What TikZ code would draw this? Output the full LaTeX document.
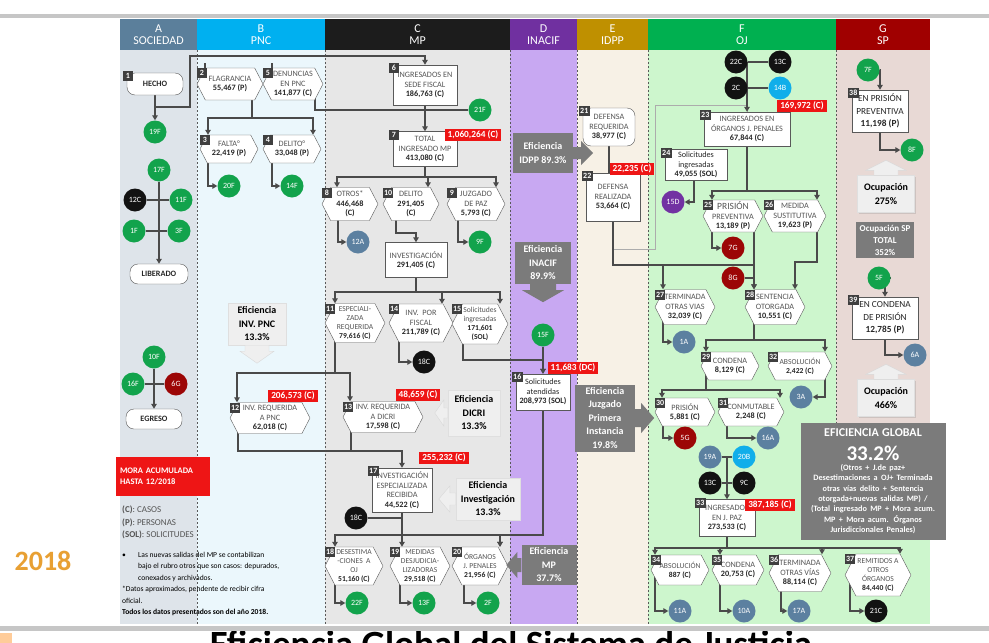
\documentclass[tikz,border=0pt]{standalone}
\usepackage{fontspec}
\setmainfont{Carlito}
\usetikzlibrary{positioning,shapes.symbols,arrows.meta,shadows}

\definecolor{bgA}{HTML}{DEE4EA}
\definecolor{bgB}{HTML}{EBF7FC}
\definecolor{bgC}{HTML}{E7E7E7}
\definecolor{bgD}{HTML}{C8A8F2}
\definecolor{bgE}{HTML}{F7F1E6}
\definecolor{bgF}{HTML}{CDF6CD}
\definecolor{bgG}{HTML}{E8D9D5}
\definecolor{hA}{HTML}{5B7F9B}
\definecolor{hB}{HTML}{00B0F0}
\definecolor{hC}{HTML}{1C1C1C}
\definecolor{hD}{HTML}{7030A0}
\definecolor{hE}{HTML}{BF9000}
\definecolor{hF}{HTML}{00B050}
\definecolor{hG}{HTML}{A00000}
\definecolor{linegray}{HTML}{595959}
\definecolor{wire}{HTML}{4A4A4A}
\definecolor{txtgray}{HTML}{555555}
\definecolor{numtxt}{HTML}{262626}
\definecolor{tagdark}{HTML}{3F3F3F}
\definecolor{tagred}{HTML}{EE1515}
\definecolor{cgreen}{HTML}{12A34C}
\definecolor{cblack}{HTML}{121212}
\definecolor{csteel}{HTML}{5C80A0}
\definecolor{ccyan}{HTML}{10AEEA}
\definecolor{cdred}{HTML}{9C0606}
\definecolor{cpurple}{HTML}{7232A2}
\definecolor{effdark}{HTML}{7B7B7B}
\definecolor{efflight}{HTML}{EFEFEF}
\definecolor{yearcol}{HTML}{E8A033}

\newcommand{\boxfont}{\fontsize{8.2}{9.6}\selectfont}
\newcommand{\tightfont}{\fontsize{7.6}{8.9}\selectfont}
\newcommand{\dotfont}{\fontsize{8}{9}\selectfont}
\newcommand{\tagfont}{\fontsize{8}{9}\selectfont\bfseries}
\newcommand{\redfont}{\fontsize{9.3}{10}\selectfont\bfseries}
\newcommand{\efffont}{\fontsize{10}{13.5}\selectfont\bfseries}
\newcommand{\colfont}{\fontsize{12}{12.5}\selectfont}
\newcommand{\spfont}{\fontsize{9.3}{12.5}\selectfont}
\newcommand{\nval}[1]{{\bfseries\color{numtxt}#1}}
\newcommand{\htag}[2]{\node[numtag] at (#1.north -| #1.west) {#2};}
\newcommand{\btag}[2]{\node[numtag] at ([shift={(-4pt,2pt)}]#1.north west) {#2};}

\pgfdeclarelayer{back}
\pgfdeclarelayer{wires}
\pgfsetlayers{back,wires,main}

\tikzset{
  hexa/.style={shape=signal, signal to=east and west, signal pointer angle=125, draw=linegray, fill=white, align=center, inner sep=0pt, text=txtgray, font=\boxfont},
  boxn/.style={rectangle, draw=linegray, fill=white, align=center, inner sep=0pt, text=txtgray, font=\boxfont},
  roundn/.style={boxn, rounded corners=8pt},
  tight/.style={font=\tightfont},
  dot/.style={circle, minimum size=23pt, inner sep=0pt, text=white, font=\dotfont},
  numtag/.style={fill=tagdark, text=white, font=\tagfont, inner xsep=1.2pt, inner ysep=0pt, minimum height=10pt, minimum width=10pt, anchor=north west},
  redtag/.style={fill=tagred, text=white, font=\redfont, inner xsep=3pt, inner ysep=2pt},
  conn/.style={draw=wire, line width=1.4pt},
  arr/.style={conn, -{Triangle[length=5pt,width=5.5pt]}},
  thinline/.style={draw=gray!65, line width=0.6pt},
  effd/.style={fill=effdark, text=white, align=center, font=\efffont, inner sep=1pt},
  effl/.style={fill=efflight, draw=gray!25, text=black, align=center, font=\efffont, inner sep=1pt, drop shadow={shadow xshift=1pt, shadow yshift=-1pt, opacity=0.25}},
  colhead/.style={text=white, align=center, font=\colfont, inner sep=0pt, minimum height=31pt},
  sepline/.style={draw=gray!70!black, line width=0.6pt, dash pattern=on 2pt off 2pt},
}

\begin{document}
\begin{tikzpicture}[x=1pt,y=-1pt]
\useasboundingbox (0,0) rectangle (989,643);

% columns
\begin{pgfonlayer}{back}
\fill[white] (0,0) rectangle (989,643);
\fill[gray!45] (0,14) rectangle (989,18);
\fill[bgA] (120,50) rectangle (197,624);
\fill[bgB] (197,50) rectangle (325,624);
\fill[bgC] (325,50) rectangle (510,624);
\fill[bgD] (510,50) rectangle (577,624);
\fill[bgE] (577,50) rectangle (648,624);
\fill[bgF] (648,50) rectangle (836,624);
\fill[bgG] (836,50) rectangle (930,443);
\fill[bgF] (836,443) rectangle (930,624);
\draw[sepline] (197,50) -- (197,624);
\draw[sepline] (325,50) -- (325,624);
\draw[sepline] (510,50) -- (510,624);
\draw[sepline] (577,50) -- (577,624);
\draw[sepline] (648,50) -- (648,624);
\draw[sepline] (836,50) -- (836,443);
\fill[gray!45] (0,626) rectangle (989,631);
\fill[orange!40] (0,633) rectangle (12,643);
\end{pgfonlayer}

\node[colhead, fill=hA, minimum width=77] (hdA) at (158.5,34.5) {A\\SOCIEDAD};
\node[colhead, fill=hB, minimum width=128] (hdB) at (261,34.5) {B\\PNC};
\node[colhead, fill=hC, minimum width=185] (hdC) at (417.5,34.5) {C\\MP};
\node[colhead, fill=hD, minimum width=67] (hdD) at (543.5,34.5) {D\\INACIF};
\node[colhead, fill=hE, minimum width=71] (hdE) at (612.5,34.5) {E\\IDPP};
\node[colhead, fill=hF, minimum width=188] (hdF) at (742,34.5) {F\\OJ};
\node[colhead, fill=hG, minimum width=94] (hdG) at (883,34.5) {G\\SP};

% A SOCIEDAD
\node[roundn, font=\boxfont\bfseries, text=numtxt, minimum width=56, minimum height=22] (n1) at (155,84) {HECHO};
\node[dot, fill=cgreen] (c19F) at (155,132) {19F};
\node[dot, fill=cgreen] (c17F) at (159,170) {17F};
\node[dot, fill=cblack] (c12C) at (135,200) {12C};
\node[dot, fill=cgreen] (c11F) at (181,200) {11F};
\node[dot, fill=cgreen] (c1F) at (134,231) {1F};
\node[dot, fill=cgreen] (c3F) at (179,231) {3F};
\node[roundn, font=\boxfont\bfseries, text=numtxt, minimum width=58, minimum height=20] (liberado) at (159,274) {LIBERADO};
\node[dot, fill=cgreen] (c10F) at (154,357) {10F};
\node[dot, fill=cgreen] (c16F) at (133,384) {16F};
\node[dot, fill=cdred] (c6G) at (176,384) {6G};
\node[roundn, font=\boxfont\bfseries, text=numtxt, minimum width=56, minimum height=20] (egreso) at (154,419) {EGRESO};
\node[fill=tagred, text=white, font=\fontsize{8.5}{11}\selectfont\bfseries, align=left, text width=86, inner xsep=4pt, minimum height=39] (mora) at (163,476) {MORA ACUMULADA\\HASTA 12/2018};
\node[anchor=north west, align=left, font=\fontsize{9}{12.3}\selectfont, text=txtgray, inner sep=0pt] (legend) at (122,506) {\textbf{(C)}: CASOS\\\textbf{(P)}: PERSONAS\\\textbf{(SOL)}: SOLICITUDES};
\node[anchor=north west, align=left, font=\fontsize{7.6}{11.4}\selectfont, text=black, inner sep=0pt] (notes) at (122,552) {\makebox[16pt][l]{•}Las nuevas salidas del MP se contabilizan\\\hspace*{16pt}bajo el rubro otros que son casos: depurados,\\\hspace*{16pt}conexados y archivados.\\*Datos aproximados, pendente de recibir cifra\\oficial.\\\textbf{Todos los datos presentados son del año 2018.}};
\node[font=\fontsize{28}{30}\selectfont\bfseries, text=yearcol] (year) at (43,561) {2018};

% B PNC
\node[hexa, minimum width=66, minimum height=32] (n2) at (230,84) {FLAGRANCIA\\\nval{55,467 (P)}};
\node[hexa, minimum width=60, minimum height=32] (n5) at (293,84) {DENUNCIAS\\EN PNC\\\nval{141,877 (C)}};
\node[hexa, minimum width=58, minimum height=28] (n3) at (229,149) {FALTA°\\\nval{22,419 (P)}};
\node[hexa, minimum width=58, minimum height=28] (n4) at (292,149) {DELITO°\\\nval{33,048 (P)}};
\node[dot, fill=cgreen] (c20F) at (229,186) {20F};
\node[dot, fill=cgreen] (c14F) at (292,186) {14F};
\node[effl, minimum width=58, minimum height=42] (ePNC) at (257,324) {Eficiencia\\INV. PNC\\13.3\%};
\node[hexa, minimum width=80, minimum height=31] (n12) at (270,418) {INV. REQUERIDA\\A PNC\\\nval{62,018 (C)}};

% C MP
\node[boxn, minimum width=64, minimum height=40] (n6) at (425,85) {INGRESADOS EN\\SEDE FISCAL\\\nval{186,763 (C)}};
\node[boxn, minimum width=64, minimum height=35] (n7) at (425,149) {TOTAL\\INGRESADO MP\\\nval{413,080 (C)}};
\node[dot, fill=cgreen] (c21F) at (480,110) {21F};
\node[hexa, minimum width=56, minimum height=33] (n8) at (350,204) {OTROS*\\\nval{446,468}\\\nval{(C)}};
\node[hexa, minimum width=56, minimum height=33] (n10) at (411,204) {DELITO\\\nval{291,405}\\\nval{(C)}};
\node[hexa, minimum width=58, minimum height=33] (n9) at (476,204) {JUZGADO\\DE PAZ\\\nval{5,793 (C)}};
\node[dot, fill=csteel] (c12A) at (358,242) {12A};
\node[dot, fill=cgreen] (c9F) at (480,242) {9F};
\node[boxn, minimum width=62, minimum height=35] (ninv) at (416,260) {INVESTIGACIÓN\\\nval{291,405 (C)}};
\node[hexa, tight, minimum width=60, minimum height=39] (n11) at (355,323) {ESPECIALI-\\ZADA\\REQUERIDA\\\nval{79,616 (C)}};
\node[hexa, minimum width=64, minimum height=38] (n14) at (421,323) {INV.\ \ POR\\FISCAL\\\nval{211,789 (C)}};
\node[hexa, tight, minimum width=56, minimum height=40] (n15) at (480,324) {Solicitudes\\ingresadas\\\nval{171,601}\\\nval{(SOL)}};
\node[dot, fill=cblack] (c18Ca) at (424,362) {18C};
\node[hexa, minimum width=80, minimum height=31] (n13) at (383,417) {INV. REQUERIDA\\A DICRI\\\nval{17,598 (C)}};
\node[effl, minimum width=52, minimum height=46] (eDICRI) at (474,413) {Eficiencia\\DICRI\\13.3\%};
\node[boxn, minimum width=60, minimum height=44] (n17) at (402,490) {INVESTIGACIÓN\\ESPECIALIZADA\\RECIBIDA\\\nval{44,522 (C)}};
\node[dot, fill=cblack] (c18Cb) at (356,518) {18C};
\node[effl, minimum width=64, minimum height=42] (eInv) at (488,499) {Eficiencia\\Investigación\\13.3\%};
\node[hexa, tight, minimum width=58, minimum height=38] (n18) at (354,566) {DESESTIMA\\-CIONES\ \ A\\OJ\\\nval{51,160 (C)}};
\node[hexa, tight, minimum width=60, minimum height=38] (n19) at (420,566) {MEDIDAS\\DESJUDICIA-\\LIZADORAS\\\nval{29,518 (C)}};
\node[hexa, tight, minimum width=56, minimum height=38] (n20) at (480,566) {ÓRGANOS\\J. PENALES\\\nval{21,956 (C)}};
\node[dot, fill=cgreen] (c22F) at (357,603) {22F};
\node[dot, fill=cgreen] (c13F) at (424,603) {13F};
\node[dot, fill=cgreen] (c2F) at (488,603) {2F};

% D INACIF
\node[effd, minimum width=60, minimum height=40] (eIDPP) at (543,153) {Eficiencia\\IDPP 89.3\%};
\node[effd, minimum width=56, minimum height=42] (eINACIF) at (543,263) {Eficiencia\\INACIF\\89.9\%};
\node[dot, fill=cgreen] (c15F) at (543,335) {15F};
\node[boxn, minimum width=54, minimum height=36, text=numtxt] (n16) at (543,392) {Solicitudes\\atendidas\\\nval{208,973 (SOL)}};
\node[effd, minimum width=60, minimum height=67] (eJPI) at (605,418) {Eficiencia\\Juzgado\\Primera\\Instancia\\19.8\%};
\node[effd, minimum width=55, minimum height=40] (eMP) at (549,565) {Eficiencia\\MP\\37.7\%};

% E IDPP
\node[roundn, minimum width=52, minimum height=38] (n21) at (609,127) {DEFENSA\\REQUERIDA\\\nval{38,977 (C)}};
\node[boxn, minimum width=54, minimum height=48] (n22) at (613,197) {DEFENSA\\REALIZADA\\\nval{53,664 (C)}};

% F OJ
\node[dot, fill=cblack] (c22C) at (736,62) {22C};
\node[dot, fill=cblack] (c13Ca) at (780,62) {13C};
\node[dot, fill=cblack] (c2C) at (736,88) {2C};
\node[dot, fill=ccyan] (c14B) at (780,88) {14B};
\node[boxn, minimum width=86, minimum height=34] (n23) at (747,129) {INGRESADOS EN\\ÓRGANOS J. PENALES\\\nval{67,844 (C)}};
\node[boxn, minimum width=62, minimum height=31, text=numtxt] (n24) at (696,165) {Solicitudes\\ingresadas\\\nval{49,055 (SOL)}};
\node[dot, fill=cpurple] (c15D) at (673,202) {15D};
\node[hexa, minimum width=60, minimum height=32] (n25) at (733,216) {{\fontsize{9.5}{10}\selectfont PRISIÓN}\\PREVENTIVA\\\nval{13,189 (P)}};
\node[hexa, minimum width=62, minimum height=32] (n26) at (795,216) {MEDIDA\\SUSTITUTIVA\\\nval{19,623 (P)}};
\node[dot, fill=cdred] (c7G) at (733,248) {7G};
\node[dot, fill=cdred] (c8G) at (733,278) {8G};
\node[hexa, minimum width=60, minimum height=35] (n27) at (685,307) {TERMINADA\\OTRAS VIAS\\\nval{32,039 (C)}};
\node[hexa, minimum width=60, minimum height=35] (n28) at (775,307) {SENTENCIA\\OTORGADA\\\nval{10,551 (C)}};
\node[dot, fill=csteel] (c1A) at (684,342) {1A};
\node[hexa, minimum width=58, minimum height=28] (n29) at (730,366) {CONDENA\\\nval{8,129 (C)}};
\node[hexa, tight, minimum width=64, minimum height=28] (n32) at (800,366) {ABSOLUCIÓN\\\nval{2,422 (C)}};
\node[dot, fill=csteel] (c3A) at (801,397) {3A};
\node[hexa, minimum width=60, minimum height=28] (n30) at (685,412) {PRISIÓN\\\nval{5,881 (C)}};
\node[hexa, minimum width=66, minimum height=28] (n31) at (751,412) {CONMUTABLE\\\nval{2,248 (C)}};
\node[dot, fill=cdred] (c5G) at (685,438) {5G};
\node[dot, fill=csteel] (c16A) at (768,438) {16A};
\node[dot, fill=csteel] (c19A) at (710,457) {19A};
\node[dot, fill=ccyan] (c20B) at (744,457) {20B};
\node[dot, fill=cblack] (c13Cb) at (710,483) {13C};
\node[dot, fill=cblack] (c9C) at (744,483) {9C};
\node[boxn, minimum width=56, minimum height=37] (n33) at (727,518) {INGRESADOS\\EN J. PAZ\\\nval{273,533 (C)}};
\node[hexa, tight, minimum width=58, minimum height=30] (n34) at (680,570) {ABSOLUCIÓN\\\nval{887 (C)}};
\node[hexa, minimum width=52, minimum height=30] (n35) at (738,570) {CONDENA\\\nval{20,753 (C)}};
\node[hexa, minimum width=62, minimum height=37] (n36) at (800,573) {TERMINADA\\OTRAS VÍAS\\\nval{88,114 (C)}};
\node[hexa, tight, minimum width=66, minimum height=42] (n37) at (878,575) {REMITIDOS A\\OTROS\\ÓRGANOS\\\nval{84,440 (C)}};
\node[dot, fill=csteel] (c11A) at (680,611) {11A};
\node[dot, fill=csteel] (c10A) at (744,611) {10A};
\node[dot, fill=csteel] (c17A) at (799,611) {17A};
\node[dot, fill=cblack] (c21C) at (876,611) {21C};
\node[effd, text width=141, minimum height=117, inner sep=2pt] (eGlobal) at (873,481) {{\fontsize{12}{14}\selectfont EFICIENCIA GLOBAL\par}{\fontsize{21}{24}\selectfont 33.2\%\par}{\fontsize{8.2}{10.3}\selectfont (Otros + J.de paz+\\Desestimaciones a OJ+ Terminada\\otras vías delito + Sentencia\\otorgada+nuevas salidas MP) /\\(Total ingresado MP + Mora acum.\\MP + Mora acum. Órganos\\Jurisdiccionales Penales)\par}};

% G SP
\node[dot, fill=cgreen] (c7F) at (868,70) {7F};
\node[boxn, font=\spfont, text=numtxt, minimum width=56, minimum height=42] (n38) at (880,111) {EN PRISIÓN\\PREVENTIVA\\\nval{11,198 (P)}};
\node[dot, fill=cgreen] (c8F) at (912,150) {8F};
\node[effl, minimum width=57, minimum height=37] (occA) at (886,194) {Ocupación\\275\%};
\node[effd, font=\fontsize{9}{12}\selectfont\bfseries, minimum width=58, minimum height=36] (occSP) at (885,240) {Ocupación SP\\TOTAL\\352\%};
\node[dot, fill=cgreen] (c5F) at (879,278) {5F};
\node[boxn, font=\spfont, text=numtxt, minimum width=66, minimum height=42] (n39) at (885,318) {EN CONDENA\\DE PRISIÓN\\\nval{12,785 (P)}};
\node[dot, fill=csteel] (c6A) at (915,355) {6A};
\node[effl, minimum width=57, minimum height=37] (occB) at (886,398) {Ocupación\\466\%};

% number tags
\btag{n1}{1} \htag{n2}{2} \htag{n3}{3} \htag{n4}{4} \htag{n5}{5}
\btag{n6}{6} \btag{n7}{7} \htag{n8}{8} \htag{n9}{9} \htag{n10}{10}
\htag{n11}{11} \htag{n12}{12} \htag{n13}{13} \htag{n14}{14} \htag{n15}{15}
\btag{n16}{16} \btag{n17}{17} \htag{n18}{18} \htag{n19}{19} \htag{n20}{20}
\btag{n21}{21} \btag{n22}{22} \btag{n23}{23} \btag{n24}{24} \htag{n25}{25}
\htag{n26}{26} \htag{n27}{27} \htag{n28}{28} \htag{n29}{29} \htag{n30}{30}
\htag{n31}{31} \htag{n32}{32} \btag{n33}{33} \htag{n34}{34} \htag{n35}{35}
\htag{n36}{36} \htag{n37}{37} \btag{n38}{38} \btag{n39}{39}

% red totals
\node[redtag] (t7) at (473,135) {1,060,264 (C)};
\node[redtag] (t12) at (293,396) {206,573 (C)};
\node[redtag] (t13) at (418,395) {48,659 (C)};
\node[redtag] (t17) at (444,458) {255,232 (C)};
\node[redtag] (t16) at (573,368) {11,683 (DC)};
\node[redtag] (t22) at (632,169) {22,235 (C)};
\node[redtag] (t23) at (802,106) {169,972 (C)};
\node[redtag] (t33) at (770,505) {387,185 (C)};

% wide arrows of the efficiency boxes
\fill[efflight, draw=gray!30] (ePNC.south) ++(-12,0) -- ++(0,6) -- ++(-5,0) -- ++(17,12) -- ++(17,-12) -- ++(-5,0) -- ++(0,-6) -- cycle;
\fill[efflight, draw=gray!30] (eDICRI.west) ++(0,-5) -- ++(-4,0) -- ++(0,-8) -- ++(-9,13) -- ++(9,13) -- ++(0,-8) -- ++(4,0) -- cycle;
\fill[efflight, draw=gray!30] (eInv.west) ++(0,-6) -- ++(-6,0) -- ++(0,-7) -- ++(-11,13) -- ++(11,13) -- ++(0,-7) -- ++(6,0) -- cycle;
\fill[effdark] (eMP.west) ++(0,-7) -- ++(-4,0) -- ++(0,-6) -- ++(-11,13) -- ++(11,13) -- ++(0,-6) -- ++(4,0) -- cycle;
\fill[effdark] (eIDPP.east) ++(0,-6) -- ++(8,0) -- ++(0,-6) -- ++(12,12) -- ++(-12,12) -- ++(0,-6) -- ++(-8,0) -- cycle;
\fill[effdark] (eINACIF.south) ++(-13,0) -- ++(0,6) -- ++(-8,0) -- ++(21,12) -- ++(21,-12) -- ++(-8,0) -- ++(0,-6) -- cycle;
\fill[effdark] (eJPI.east) ++(0,-9) -- ++(6,0) -- ++(0,-6) -- ++(13,15) -- ++(-13,15) -- ++(0,-6) -- ++(-6,0) -- cycle;
\fill[efflight, draw=gray!30] (occA.north) ++(-12,0) -- ++(0,-5) -- ++(-8,0) -- ++(20,-10) -- ++(20,10) -- ++(-8,0) -- ++(0,5) -- cycle;
\fill[efflight, draw=gray!30] (occB.north) ++(-12,0) -- ++(0,-5) -- ++(-8,0) -- ++(20,-10) -- ++(20,10) -- ++(-8,0) -- ++(0,5) -- cycle;

% connectors
\begin{pgfonlayer}{wires}
\coordinate (j1) at (155,107);
\coordinate (j1b) at (190,56);
\coordinate (j2) at (252,118);
\coordinate (j7) at (425,177);
\coordinate (j10) at (416,233);
\coordinate (jinv) at (416,292);
\coordinate (j11) at (335,373);
\coordinate (j15) at (543,360);
\coordinate (j12) at (402,451);
\coordinate (j17) at (402,535);
\coordinate (j16) at (500,535);
\coordinate (j22) at (613,265);
\coordinate (j22t) at (613,249);
\coordinate (jd) at (655,105);
\coordinate (j23) at (747,191);
\coordinate (j26) at (795,262);
\coordinate (j28) at (754,340);
\coordinate (j29) at (706,390);
\coordinate (j33) at (727,548);
\draw[arr] (n1) -- (c19F.north);
\draw[arr] (n1) -- (j1) -| (j1b) -| (n6.north);
\draw[arr] (n2.north -| 205,56) -- (n2.north -| 205,0);
\draw[arr] (n5.north -| 272,56) -- (n5.north -| 272,0);
\draw[conn] (c12C) -- (c11F);
\draw[conn] (c1F) -- (c3F);
\draw[arr] (c17F) -- (liberado.north);
\draw[conn] (c16F) -- (c6G);
\draw[arr] (c10F) -- (egreso.north);
\draw[arr] (n2 -| j2) -- (j2) -| (n3.north -| 208,0);
\draw[arr] (j2) -| (n4.north -| 313,0);
\draw[arr] (n3 -| 208,0) |- (c20F.west);
\draw[arr] (n4 -| 272,0) |- (c14F.west);
\draw[conn] (n5 -| 315,0) |- (c21F);
\draw[arr] (n6) -- (n7.north);
\draw[arr] (n7) -- (j7) -| (n8.north -| 337,0);
\draw[arr] (j7) -| (n10.north -| 428,0);
\draw[arr] (j7) -| (n9.north -| 496,0);
\draw[arr] (n8 -| 338,0) |- (c12A.west);
\draw[arr] (n10 -| 396,0) |- (j10) -- (ninv.north);
\draw[arr] (n9 -| 458,0) |- (c9F.west);
\draw[arr] (ninv) -- (jinv) -| (n11.north -| 335,0);
\draw[arr] (jinv) -| (n14.north -| 442,0);
\draw[arr] (jinv) -| (n15.north -| 500,0);
\draw[arr] (n14 -| 399,0) |- (c18Ca.west);
\draw[arr] (n15 -| 463,0) |- (j15) -- (n16.north);
\draw[arr] (c15F) -- (n16.north);
\draw[arr] (n11 -| j11) -- (j11) -| (n12.north -| 237,0);
\draw[arr] (j11) -| (n13.north -| 350,0);
\draw[arr] (n12 -| 238,0) |- (j12) -- (n17.north);
\draw[conn] (n13 -| 351,0) |- (j12);
\draw[conn] (c18Cb) -- (c18Cb -| n17);
\draw[arr] (n17) -- (j17) -| (n18.north -| 335,0);
\draw[arr] (j17) -- (n19.north -| j17);
\draw[arr] (j17) -| (n20.north -| j16);
\draw[arr] (n16) |- (j16) -- (n20.north -| j16);
\draw[arr] (n18 -| 335,0) |- (c22F.west);
\draw[arr] (n19 -| 400,0) |- (c13F.west);
\draw[arr] (n20 -| 464,0) |- (c2F.west);
\draw[conn] (n21) -- (n21 |- n22.north);
\draw[thinline] (j22t) -| (jd) -| (n23.north);
\draw[arr] (n22) -- (j22) -| (n27.north -| 663,0);
\draw[arr] (j22) -| (n28.north -| 754,0);
\draw[conn] (c22C) -- (c13Ca);
\draw[conn] (c2C) -- (c14B);
\draw[arr] (c22C -| n23) -- (n23.north);
\draw[arr] (n24 -| 694,0) |- (c15D.east);
\draw[arr] (n23) -- (j23) -| (n25.north -| 712,0);
\draw[arr] (j23) -| (n26.north -| 817,0);
\draw[arr] (n25 -| 712,0) |- (c7G.west);
\draw[arr] (n25 -| 754,0) -- (n28.north -| 754,0);
\draw[conn] (c8G) -- (c8G -| 754,0);
\draw[arr] (n26 -| 817,0) |- (j26) -- (n28.north -| j26);
\draw[arr] (n27 -| 663,0) |- (c1A.west);
\draw[arr] (n28 -| j28) -- (j28) -| (n29.north -| 706,0);
\draw[arr] (j28) -| (n32.north -| 825,0);
\draw[arr] (n32 -| 825,0) |- (c3A.east);
\draw[arr] (n29 -| j29) -- (j29) -| (n30.north -| 662,0);
\draw[arr] (j29) -| (n31.north -| 780,0);
\draw[arr] (n30 -| 663,0) |- (c5G.west);
\draw[arr] (n31 -| 727,0) |- (c16A.west);
\draw[conn] (c19A) -- (c20B);
\draw[conn] (c13Cb) -- (c9C);
\draw[arr] (c19A -| n33) -- (n33.north);
\draw[arr] (n33) -- (j33) -| (n34.north -| 655,0);
\draw[arr] (j33) -| (n35.north -| 720,0);
\draw[arr] (j33) -| (n36.north -| 822,0);
\draw[arr] (j33) -| (n37.north -| 900,0);
\draw[arr] (n34 -| 655,0) |- (c11A.west);
\draw[arr] (n35 -| 720,0) |- (c10A.west);
\draw[arr] (n36 -| 781,0) |- (c17A.west);
\draw[arr] (n37 -| 850,0) |- (c21C.west);
\draw[arr] (c7F) -| (n38.north);
\draw[arr] (n38) |- (c8F.west);
\draw[arr] (c5F) -| (n39.north);
\draw[arr] (n39) |- (c6A.west);
\end{pgfonlayer}

% title cut by the page edge, as in the slide
\begin{scope}
\clip (0,631) rectangle (989,643);
\node[anchor=base, font=\fontsize{37}{40}\selectfont\bfseries, text=black] (title) at (511,656) {Eficiencia Global del Sistema de Justicia};
\end{scope}
\end{tikzpicture}
\end{document}
